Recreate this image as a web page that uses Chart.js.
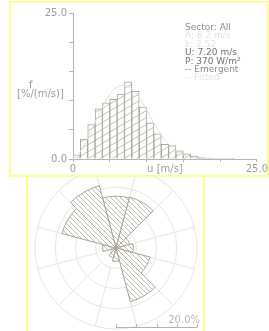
<!DOCTYPE html>
<html>
<head>
<meta charset="UTF-8">
<title>Wind climate</title>
<style>
  body { margin: 0; background: #fff; width: 269px; height: 331px; overflow: hidden; position: relative; font-family: "DejaVu Sans", sans-serif; }
  #rose { position: absolute; left: 26px; top: 158px; z-index: 1; }
  #roseBox { position: absolute; left: 26px; top: 150px; width: 175px; height: 190px; border-left: 2px solid #fdfd94; border-right: 2px solid #fdfd94; z-index: 1; }
  #histBox { position: absolute; left: 9px; top: 1px; width: 256px; height: 172px; border: 2px solid #fdfd94; background: #fff; z-index: 2; }
  #hist { position: absolute; left: 0; top: 0; z-index: 3; }
  .txt { position: absolute; z-index: 4; font-size: 10px; color: #9c9c9c; white-space: nowrap; }
  #info { left: 185px; top: 23px; font-size: 9px; line-height: 8.4px; }
</style>
</head>
<body>
<div id="roseBox"></div>
<canvas id="rose" width="180" height="180"></canvas>
<div id="histBox"></div>
<canvas id="hist" width="269" height="177"></canvas>

<div class="txt" style="left:29px;top:79px;">f</div>
<div class="txt" style="left:17px;top:88px;">[%/(m/s)]</div>
<div class="txt" id="info">
  <div style="color:#8c8c8c">Sector: All</div>
  <div style="color:#e2e2e2">A: 8.2 m/s</div>
  <div style="color:#e2e2e2">k: 2.52</div>
  <div style="color:#707070">U: 7.20 m/s</div>
  <div style="color:#707070">P: 370 W/m²</div>
  <div style="color:#8c8c8c">-- Emergent</div>
  <div style="color:#e2e2e2">-- Fitted</div>
</div>

<script src="https://cdn.jsdelivr.net/npm/chart.js"></script>
<script>
// speed histogram, 1 m/s bins
const binCenters = [0.5, 1.5, 2.5, 3.5, 4.5, 5.5, 6.5, 7.5, 8.5, 9.5, 10.5, 11.5, 12.5, 13.5, 14.5, 15.5, 16.5, 17.5, 18.5, 19.5, 20.5, 21.5];
const emergentFreq = [0.7, 3.4, 5.9, 8.6, 9.6, 10.2, 11.1, 13.2, 11.6, 8.9, 6.2, 4.3, 2.5, 2.3, 1.4, 0.9, 0.5, 0.25, 0.15, 0.05, 0.1, 0.05];
const fitSpeeds = [0, 1, 2, 3, 4, 5, 6, 7, 8, 9, 10, 11, 12, 13, 14, 15, 16, 17, 18, 19];
const fittedFreq = [0, 1.3, 3.6, 6.3, 8.9, 11.0, 12.3, 12.6, 12.0, 10.5, 8.4, 6.2, 4.2, 2.6, 1.4, 0.7, 0.3, 0.1, 0.04, 0];
const xTickValues = [0, 5, 10, 12.5, 15, 20, 25];
const xTickLabels = {0: '0', 12.5: 'u [m/s]', 25: '25.0'};
const yTickLabels = {0: '0.0', 25: '25.0'};

// wind rose, 12 sectors starting at north
const sectorNames = ['N', 'NNE', 'ENE', 'E', 'ESE', 'SSE', 'S', 'SSW', 'WSW', 'W', 'WNW', 'NNW'];
const sectorFreq = [12.8, 13.0, 3.5, 4.3, 8.7, 13.7, 3.3, 2.5, 1.5, 3.3, 13.8, 15.9];

Chart.defaults.font.family = 'DejaVu Sans';
Chart.defaults.font.size = 10;
Chart.defaults.color = '#9c9c9c';

const lineCol = '#a8a496';
const axisCol = '#b4b4b4';

function hatch(w, h, color, dir) {
  const c = document.createElement('canvas');
  c.width = w; c.height = h;
  const g = c.getContext('2d');
  g.fillStyle = '#fff';
  g.fillRect(0, 0, w, h);
  g.strokeStyle = color;
  g.lineWidth = 1;
  g.beginPath();
  for (const k of [-1, 0, 1]) {
    if (dir > 0) { g.moveTo(-w, 2 * h + k * h); g.lineTo(2 * w, -h + k * h); }
    else { g.moveTo(-w, -h + k * h); g.lineTo(2 * w, 2 * h + k * h); }
  }
  g.stroke();
  return g.createPattern(c, 'repeat');
}

new Chart(document.getElementById('hist'), {
  type: 'bar',
  data: {
    datasets: [
      {
        type: 'line',
        data: fitSpeeds.map((u, i) => ({x: u, y: fittedFreq[i]})),
        borderColor: '#dedede',
        borderWidth: 1,
        pointRadius: 0,
        tension: 0.4,
        order: 0
      },
      {
        data: binCenters.map((u, i) => ({x: u, y: emergentFreq[i]})),
        backgroundColor: hatch(12, 7, '#c4c0b4', 1),
        borderColor: lineCol,
        borderWidth: 1,
        barPercentage: 1,
        categoryPercentage: 1,
        order: 1
      }
    ]
  },
  options: {
    responsive: false,
    animation: false,
    layout: {padding: {top: 13, right: 11, left: 0, bottom: 0}},
    plugins: {legend: {display: false}, tooltip: {enabled: false}},
    scales: {
      x: {
        type: 'linear', min: 0, max: 25, offset: false,
        afterBuildTicks: s => { s.ticks = xTickValues.map(v => ({value: v})); },
        afterFit: s => { s.height = 18; },
        border: {color: axisCol},
        grid: {drawOnChartArea: false, offset: false, tickLength: 3,
               tickColor: c => (c.tick && c.tick.value === 12.5) ? 'rgba(0,0,0,0)' : axisCol},
        ticks: {padding: 1, maxRotation: 0, autoSkip: false,
                callback: v => xTickLabels[v] ?? ''}
      },
      y: {
        min: 0, max: 25,
        afterFit: s => { s.width = 73; },
        border: {color: axisCol},
        grid: {drawOnChartArea: false, tickLength: 4, tickColor: axisCol},
        ticks: {stepSize: 5, padding: 2, callback: v => yTickLabels[v] ?? ''}
      }
    }
  }
});

const roseExtras = {
  id: 'roseExtras',
  beforeDatasetsDraw(chart) {
    const r = chart.scales.r;
    const ctx = chart.ctx;
    ctx.save();
    ctx.strokeStyle = '#e4e4e4';
    ctx.lineWidth = 1;
    ctx.beginPath();
    for (let i = 0; i < sectorNames.length; i++) {
      const a = r.getPointPositionForValue(i, 5);
      const b = r.getPointPositionForValue(i, 20);
      ctx.moveTo(a.x, a.y);
      ctx.lineTo(b.x, b.y);
    }
    ctx.stroke();
    ctx.restore();
  },
  afterDraw(chart) {
    const r = chart.scales.r;
    const ctx = chart.ctx;
    const y = r.yCenter + 79.5;
    ctx.save();
    ctx.strokeStyle = '#b0b0b0';
    ctx.lineWidth = 1;
    ctx.beginPath();
    ctx.moveTo(r.xCenter, y);
    ctx.lineTo(r.xCenter + r.getDistanceFromCenterForValue(20), y);
    for (const v of [0, 5, 10, 15, 20]) {
      const x = Math.round(r.xCenter + r.getDistanceFromCenterForValue(v)) + 0.5;
      ctx.moveTo(x, y);
      ctx.lineTo(x, y - 3.5);
    }
    ctx.stroke();
    ctx.fillStyle = '#b4b4b4';
    ctx.font = '10px "DejaVu Sans"';
    ctx.textAlign = 'right';
    ctx.fillText('20.0%', r.xCenter + r.getDistanceFromCenterForValue(20) + 3, y - 5);
    ctx.restore();
  }
};

new Chart(document.getElementById('rose'), {
  type: 'polarArea',
  data: {
    labels: sectorNames,
    datasets: [{
      data: sectorFreq,
      backgroundColor: hatch(5, 5, '#bcb8ac', -1),
      borderColor: lineCol,
      borderWidth: 1
    }]
  },
  options: {
    responsive: false,
    animation: false,
    layout: {padding: 9},
    plugins: {legend: {display: false}, tooltip: {enabled: false}},
    scales: {
      r: {
        min: 0, max: 20, startAngle: -15,
        ticks: {display: false, stepSize: 5},
        grid: {circular: true, color: '#e4e4e4'},
        angleLines: {display: false},
        pointLabels: {display: false}
      }
    }
  },
  plugins: [roseExtras]
});
</script>
</body>
</html>
